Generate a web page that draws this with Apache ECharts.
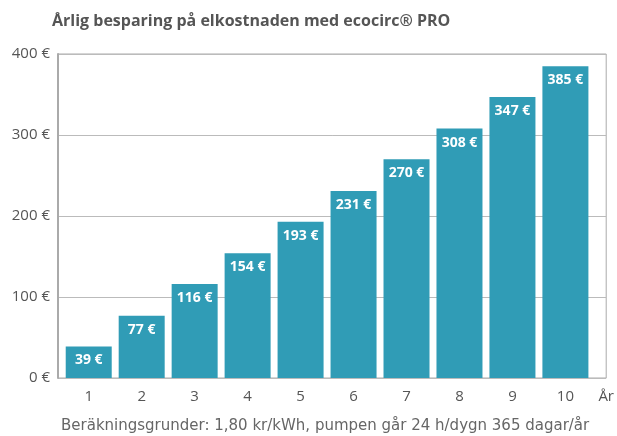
<!DOCTYPE html>
<html>
<head>
<meta charset="utf-8">
<script src="https://cdn.jsdelivr.net/npm/echarts@6/dist/echarts.min.js"></script>
<style>
  html, body { margin: 0; padding: 0; background: #fff; }
  #chart { width: 617px; height: 436px; }
</style>
</head>
<body>
<div id="chart"></div>
<script>
// years 1..10 and the yearly saving in euro
const years = [1, 2, 3, 4, 5, 6, 7, 8, 9, 10];
const savings = [39, 77, 116, 154, 193, 231, 270, 308, 347, 385];
const yTicks = [0, 100, 200, 300, 400];

const chart = echarts.init(document.getElementById("chart"));

chart.setOption({
  animation: false,
  textStyle: { fontFamily: "'Open Sans', sans-serif" },
  title: [
    {
      text: "Årlig besparing på elkostnaden med ecocirc® PRO",
      left: 47,
      top: 8,
      textStyle: { fontSize: 16, fontWeight: "bold", color: "#555", fontFamily: "'Open Sans', sans-serif" }
    },
    {
      text: "Beräkningsgrunder: 1,80 kr/kWh, pumpen går 24 h/dygn 365 dagar/år",
      left: 56,
      top: 414,
      textStyle: { fontSize: 15, fontWeight: "normal", color: "#666", fontFamily: "'DejaVu Sans', sans-serif" }
    }
  ],
  grid: {
    left: 58,
    right: 8,
    top: 54,
    bottom: 58,
    show: true,
    borderColor: "#aaa",
    borderWidth: 1
  },
  xAxis: {
    type: "value",
    min: 0.42,
    max: 10.77,
    splitLine: { show: false },
    axisLine: { show: false },
    axisTick: { show: false },
    axisLabel: {
      customValues: years.concat([10.77]),
      formatter: v => (v > 10.5 ? "År" : String(v)),
      color: "#555",
      fontSize: 15,
      margin: 11
    }
  },
  yAxis: {
    type: "value",
    min: yTicks[0],
    max: yTicks[yTicks.length - 1],
    interval: 100,
    axisLine: { show: true, lineStyle: { color: "#aaa", width: 2 } },
    axisTick: { show: false },
    splitLine: { lineStyle: { color: "#bbb", width: 1 } },
    axisLabel: {
      formatter: v => v + " €",
      color: "#555",
      fontSize: 15,
      margin: 8
    }
  },
  series: [
    {
      type: "bar",
      data: years.map((y, i) => [y, savings[i]]),
      barWidth: 46,
      itemStyle: { color: "#309cb6" },
      label: {
        show: true,
        position: "insideTop",
        distance: 7,
        formatter: p => p.value[1] + " €",
        color: "#fff",
        fontWeight: "bold",
        fontSize: 14
      }
    }
  ]
});
</script>
</body>
</html>
